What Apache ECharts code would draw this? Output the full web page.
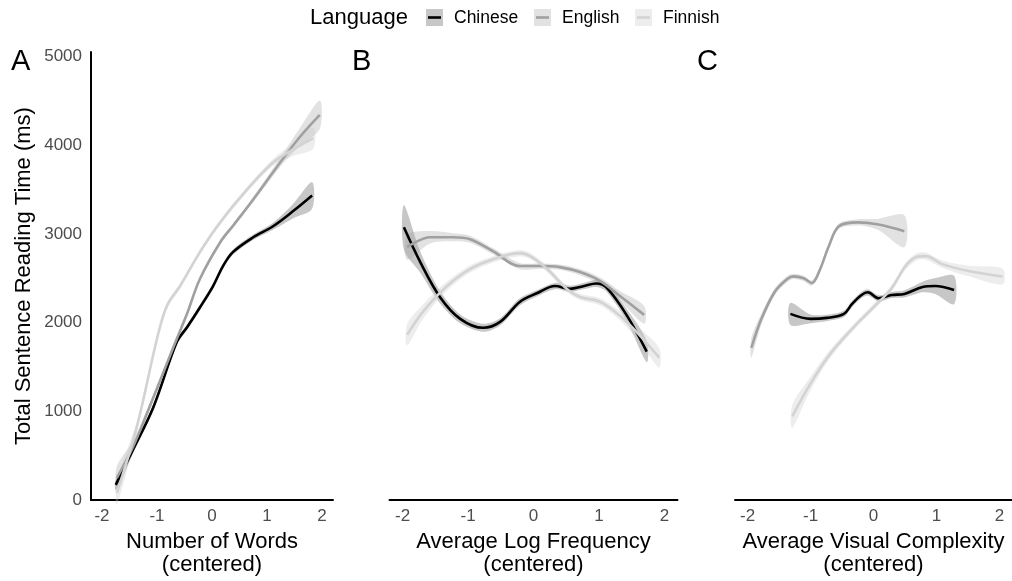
<!DOCTYPE html>
<html>
<head>
<meta charset="utf-8">
<script src="https://cdn.jsdelivr.net/npm/echarts@6/dist/echarts.min.js"></script>
<style>
  html, body { margin: 0; padding: 0; background: #ffffff; }
  #chart { width: 1012px; height: 581px; }
</style>
</head>
<body>
<div id="chart"></div>
<script>
// Smoothed reading times per predictor: [x (centered), fitted ms, ribbon half-width ms]
const wordsChinese = [[-1.75,170,60],[-1.45,550,45],[-1.07,1040,35],[-0.64,1780,30],[-0.45,1950,30],[-0.22,2170,30],[0.02,2412,30],[0.2,2637,30],[0.38,2794,30],[0.75,2962,30],[1.11,3086,40],[1.47,3254,80],[1.82,3433,150]];
const wordsEnglish = [[-1.73,250,130],[-1.45,580,70],[-1.18,980,40],[-0.71,1710,30],[-0.46,2090,25],[-0.22,2491,25],[0.15,2906,25],[0.39,3097,25],[0.75,3388,30],[1.24,3804,50],[1.6,4095,100],[1.96,4342,160]];
const wordsFinnish = [[-1.73,79,130],[-1.36,842,60],[-1.0,1818,40],[-0.82,2188,35],[-0.58,2412,30],[-0.22,2794,30],[0.15,3130,30],[0.64,3501,30],[1.11,3804,40],[1.47,3949,70],[1.84,4080,120]];

const freqChinese = [[-1.98,3074,250],[-1.73,2682,120],[-1.43,2289,70],[-1.12,2042,50],[-0.77,1941,45],[-0.51,2008,40],[-0.21,2233,40],[0.05,2330,35],[0.33,2412,35],[0.56,2380,35],[0.76,2410,35],[0.96,2440,40],[1.12,2390,45],[1.43,2076,70],[1.73,1672,120]];
const freqEnglish = [[-1.93,2850,140],[-1.58,2962,70],[-1.23,2962,45],[-0.97,2940,40],[-0.62,2805,35],[-0.21,2637,35],[0.1,2637,30],[0.4,2625,30],[0.71,2569,35],[1.02,2468,40],[1.32,2300,55],[1.69,2087,100]];
const freqFinnish = [[-1.93,1863,120],[-1.69,2121,80],[-1.32,2412,50],[-0.97,2603,40],[-0.56,2727,35],[-0.21,2783,35],[-0.05,2749,35],[0.21,2603,35],[0.51,2379,35],[0.71,2289,35],[1.02,2233,40],[1.32,2076,50],[1.63,1851,80],[1.92,1604,110]];

const complexChinese = [[-1.32,2098,125],[-1.0,2042,50],[-0.74,2053,35],[-0.47,2098,35],[-0.34,2210,35],[-0.19,2311,35],[-0.09,2341,35],[0.08,2274,35],[0.29,2311,35],[0.49,2323,40],[0.78,2401,60],[0.98,2412,90],[1.28,2367,160]];
const complexEnglish = [[-1.94,1716,110],[-1.78,2042,60],[-1.57,2345,40],[-1.37,2491,35],[-1.27,2521,30],[-1.11,2499,30],[-0.98,2446,30],[-0.86,2581,30],[-0.71,2861,30],[-0.55,3086,30],[-0.25,3130,35],[0.06,3108,60],[0.49,3029,180]];
const complexFinnish = [[-1.29,943,130],[-1.02,1290,80],[-0.71,1627,50],[-0.34,1930,35],[0.02,2188,35],[0.28,2379,35],[0.51,2637,40],[0.68,2738,40],[0.83,2749,40],[1.09,2659,40],[1.51,2581,60],[2.05,2520,90]];

const languages = ['Chinese', 'English', 'Finnish'];
const xTicks = [-2, -1, 0, 1, 2];
const yTicks = [0, 1000, 2000, 3000, 4000, 5000];
const panelLetters = ['A', 'B', 'C'];
const panelTitles = ['Number of Words\n(centered)', 'Average Log Frequency\n(centered)', 'Average Visual Complexity\n(centered)'];

const panels = [
  [wordsChinese, wordsEnglish, wordsFinnish],
  [freqChinese, freqEnglish, freqFinnish],
  [complexChinese, complexEnglish, complexFinnish]
];

const FONT = '"Liberation Sans", Arial, Helvetica, sans-serif';
const lineColors = ['#000000', '#a0a0a0', '#d3d3d3'];
const bandColors = ['rgba(0,0,0,0.22)', 'rgba(160,160,160,0.30)', 'rgba(200,200,200,0.32)'];

const gridBoxes = [
  { left: 91, width: 242 },
  { left: 389.5, width: 288 },
  { left: 735, width: 288 }
];

const grids = gridBoxes.map(b => ({ left: b.left, width: b.width, top: 52, height: 450 }));

const xAxes = gridBoxes.map((b, i) => ({
  type: 'value', gridIndex: i, min: -2.2, max: 2.2,
  name: panelTitles[i], nameLocation: 'middle', nameGap: 30,
  nameTextStyle: { fontSize: 22, lineHeight: 23, color: '#000', fontFamily: FONT },
  axisLine: { show: true, onZero: false, lineStyle: { color: '#000', width: 2 } },
  axisTick: { show: false },
  splitLine: { show: false },
  axisLabel: { customValues: xTicks, fontSize: 17, color: '#4d4d4d', fontFamily: FONT, margin: 8,
    formatter: v => String(v) }
}));

const yAxes = gridBoxes.map((b, i) => ({
  type: 'value', gridIndex: i, min: 0, max: 5050,
  name: i === 0 ? 'Total Sentence Reading Time (ms)' : '',
  nameLocation: 'middle', nameGap: 56, nameRotate: 90,
  nameTextStyle: { fontSize: 22, color: '#000', fontFamily: FONT },
  axisLine: { show: i === 0, onZero: false, lineStyle: { color: '#000', width: 2 } },
  axisTick: { show: false },
  splitLine: { show: false },
  axisLabel: { show: i === 0, customValues: yTicks, fontSize: 17, color: '#4d4d4d', fontFamily: FONT, margin: 9,
    formatter: v => String(v) }
}));

const series = [];
panels.forEach((group, p) => {
  group.forEach((rows, k) => {
    // confidence ribbon
    series.push({
      type: 'custom', name: languages[k] + ' band', xAxisIndex: p, yAxisIndex: p,
      silent: true, data: [[rows[0][0], rows[0][1]]],
      renderItem: function (params, api) {
        const pts = [];
        for (let i = 0; i < rows.length; i++) pts.push(api.coord([rows[i][0], rows[i][1] + rows[i][2]]));
        for (let i = rows.length - 1; i >= 0; i--) pts.push(api.coord([rows[i][0], rows[i][1] - rows[i][2]]));
        return { type: 'polygon', shape: { points: pts, smooth: 0.3 }, style: { fill: bandColors[k] } };
      }
    });
    // fitted curve
    series.push({
      type: 'line', name: languages[k], xAxisIndex: p, yAxisIndex: p,
      data: rows.map(r => [r[0], r[1]]),
      smooth: 0.35, symbol: 'none', silent: true,
      lineStyle: { color: lineColors[k], width: 2.6 }
    });
  });
});

const graphic = [];
// legend
graphic.push({ type: 'text', x: 310, y: 18, style: { text: 'Language', fontSize: 22, fontFamily: FONT, fill: '#000', align: 'left', verticalAlign: 'middle' } });
const keyX = [426, 534, 635];
languages.forEach((lang, k) => {
  graphic.push({ type: 'rect', shape: { x: keyX[k], y: 9, width: 17, height: 17 }, style: { fill: bandColors[k] } });
  graphic.push({ type: 'line', shape: { x1: keyX[k] + 2, y1: 17.5, x2: keyX[k] + 15, y2: 17.5 }, style: { stroke: lineColors[k], lineWidth: 2.6 } });
  graphic.push({ type: 'text', x: keyX[k] + 28, y: 18, style: { text: lang, fontSize: 17.5, fontFamily: FONT, fill: '#000', align: 'left', verticalAlign: 'middle' } });
});
// panel tags
const letterX = [11, 352, 697];
panelLetters.forEach((t, i) => {
  graphic.push({ type: 'text', x: letterX[i], y: 62, style: { text: t, fontSize: 29, fontFamily: FONT, fill: '#000', align: 'left', verticalAlign: 'middle' } });
});

const chart = echarts.init(document.getElementById('chart'), null, { renderer: 'canvas' });
chart.setOption({
  animation: false,
  backgroundColor: '#ffffff',
  grid: grids,
  xAxis: xAxes,
  yAxis: yAxes,
  series: series,
  graphic: graphic
});
</script>
</body>
</html>
